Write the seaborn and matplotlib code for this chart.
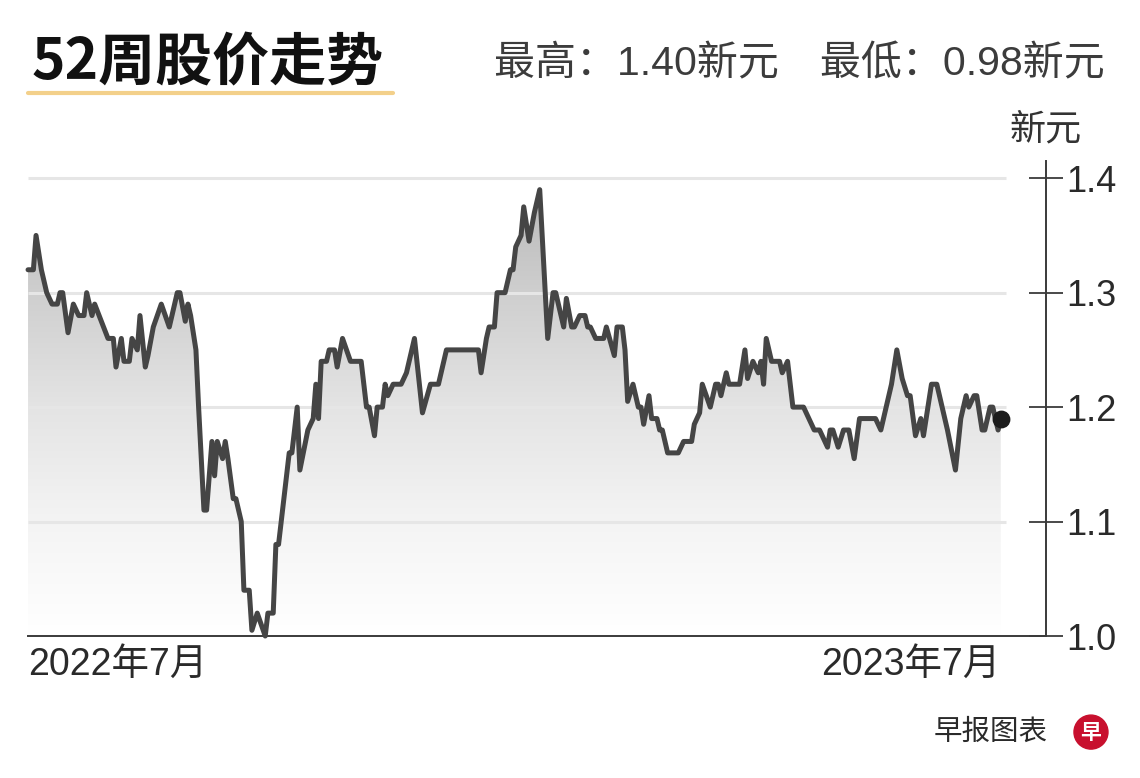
import numpy as np
import pandas as pd
import seaborn as sns
import matplotlib.pyplot as plt
import matplotlib.dates as mdates
from matplotlib.colors import LinearSegmentedColormap
from matplotlib.lines import Line2D
from matplotlib.patches import Ellipse

# days after 1 July 2022 and closing price (S$)
day_offsets = [
    0, 2, 3, 5, 7, 9, 11, 12, 13, 15,
    17, 19, 21, 22, 24, 25, 30, 32, 33, 35,
    36, 38, 39, 41, 42, 44, 45, 47, 50, 53,
    54, 56, 57, 59, 60, 61, 63, 64, 66, 67,
    69, 70, 71, 73, 74, 75, 77, 78, 80, 81,
    83, 84, 86, 89, 90, 92, 93, 94, 98, 99,
    101, 102, 105, 107, 108, 109, 110, 112, 113, 115,
    116, 118, 121, 125, 127, 128, 130, 131, 133, 134,
    135, 137, 140, 142, 145, 148, 151, 154, 157, 169,
    170, 172, 173, 175, 176, 179, 181, 182, 183, 185,
    186, 188, 190, 192, 195, 197, 198, 201, 202, 204,
    205, 207, 209, 210, 211, 213, 216, 217, 220, 221,
    223, 224, 225, 227, 229, 230, 231, 233, 234, 236,
    237, 238, 240, 244, 246, 249, 250, 252, 253, 256,
    258, 259, 260, 262, 263, 267, 269, 270, 272, 274,
    275, 276, 277, 279, 282, 283, 285, 287, 291, 293,
    295, 297, 300, 301, 302, 304, 306, 308, 310, 312,
    318, 320, 323, 324, 326, 328, 330, 331, 333, 335,
    336, 339, 341, 344, 345, 348, 350, 352, 353, 355,
    356, 358, 359, 361, 362, 364, 365,
]
prices = [
    1.32, 1.32, 1.35, 1.32, 1.30, 1.29, 1.29, 1.30, 1.30, 1.265,
    1.29, 1.28, 1.28, 1.30, 1.28, 1.29, 1.26, 1.26, 1.235, 1.26,
    1.24, 1.24, 1.26, 1.25, 1.28, 1.235, 1.245, 1.27, 1.29, 1.27,
    1.28, 1.30, 1.30, 1.275, 1.29, 1.28, 1.25, 1.20, 1.11, 1.11,
    1.17, 1.14, 1.17, 1.155, 1.17, 1.155, 1.12, 1.12, 1.10, 1.04,
    1.04, 1.005, 1.02, 1.00, 1.02, 1.02, 1.08, 1.08, 1.16, 1.16,
    1.20, 1.145, 1.18, 1.19, 1.22, 1.19, 1.24, 1.24, 1.25, 1.25,
    1.235, 1.26, 1.24, 1.24, 1.20, 1.20, 1.175, 1.20, 1.20, 1.22,
    1.21, 1.22, 1.22, 1.23, 1.26, 1.195, 1.22, 1.22, 1.25, 1.25,
    1.23, 1.26, 1.27, 1.27, 1.30, 1.30, 1.32, 1.32, 1.34, 1.35,
    1.375, 1.345, 1.37, 1.39, 1.26, 1.30, 1.30, 1.27, 1.295, 1.27,
    1.27, 1.28, 1.28, 1.27, 1.27, 1.26, 1.26, 1.27, 1.245, 1.27,
    1.27, 1.25, 1.205, 1.22, 1.20, 1.20, 1.185, 1.21, 1.19, 1.19,
    1.18, 1.18, 1.16, 1.16, 1.17, 1.17, 1.185, 1.195, 1.22, 1.20,
    1.22, 1.22, 1.21, 1.23, 1.22, 1.22, 1.25, 1.225, 1.24, 1.23,
    1.24, 1.22, 1.26, 1.24, 1.24, 1.23, 1.24, 1.20, 1.20, 1.19,
    1.18, 1.18, 1.165, 1.18, 1.18, 1.165, 1.18, 1.18, 1.155, 1.19,
    1.19, 1.18, 1.21, 1.22, 1.25, 1.225, 1.21, 1.21, 1.175, 1.19,
    1.175, 1.22, 1.22, 1.19, 1.18, 1.145, 1.19, 1.21, 1.20, 1.21,
    1.21, 1.18, 1.18, 1.20, 1.20, 1.18, 1.19,
]

y_ticks = [1.0, 1.1, 1.2, 1.3, 1.4]
y_labels = ["1.0", "1.1", "1.2", "1.3", "1.4"]
x_ticks = ["2022-07-01", "2023-07-01"]
x_labels = ["2022年7月", "2023年7月"]

title = "52周股价走势"
high_low = "最高：1.40新元　最低：0.98新元"
unit = "新元"
source = "早报图表"

start = pd.Timestamp("2022-07-01")
df = pd.DataFrame({
    "date": start + pd.to_timedelta(day_offsets, unit="D"),
    "price": prices,
})

sns.set_theme(style="white")
plt.rcParams["font.family"] = ["Liberation Sans", "Noto Sans CJK SC"]

fig = plt.figure(figsize=(11.4, 7.78), dpi=100)
ax = fig.add_axes([0.0246, 0.1825, 0.893, 0.6105])

x_end = start + pd.Timedelta(days=382)
y_top = 1.415

# grey gradient under the line, clipped to the area below the price
area = ax.fill_between(df["date"], df["price"], 1.0, facecolor="none", edgecolor="none")
fade = LinearSegmentedColormap.from_list(
    "fade",
    [(0, "#ffffff"), (0.24, "#f4f4f4"), (0.48, "#e4e4e4"), (0.72, "#cfcfcf"), (1.0, "#b3b3b3")],
)
grad = np.linspace(0, 1, 256).reshape(-1, 1)
img = ax.imshow(
    grad, cmap=fade, origin="lower", aspect="auto", zorder=1,
    extent=[mdates.date2num(df["date"].iloc[0]), mdates.date2num(df["date"].iloc[-1]), 1.0, y_top],
)
img.set_clip_path(area.get_paths()[0], transform=ax.transData)

# light grid lines
ax.hlines(y_ticks[1:], start, start + pd.Timedelta(days=367), colors="#e6e6e6", lw=2.2, zorder=2)

sns.lineplot(data=df, x="date", y="price", color="#454545", linewidth=3.6,
             ax=ax, zorder=3, clip_on=False)
ax.scatter(df["date"].iloc[-1], df["price"].iloc[-1], s=140, color="#1c1c1c", zorder=4)

ax.set_xlim(start, x_end)
ax.set_ylim(1.0, y_top)
ax.set_xlabel("")
ax.set_ylabel("")

for side in ["left", "top"]:
    ax.spines[side].set_visible(False)
for side in ["right", "bottom"]:
    ax.spines[side].set_color("#3a3a3a")
    ax.spines[side].set_linewidth(1.4)

ax.yaxis.tick_right()
ax.set_yticks(y_ticks, y_labels)
ax.tick_params(axis="y", direction="inout", length=25, width=1.3, color="#3a3a3a",
               pad=2, labelsize=26, labelcolor="#2a2a2a")

ax.set_xticks(pd.to_datetime(x_ticks), x_labels)
ax.tick_params(axis="x", direction="in", length=9, width=1.3, color="#3a3a3a",
               pad=8, labelsize=27, labelcolor="#2a2a2a")
xl = ax.get_xticklabels()
xl[0].set_ha("left")
xl[-1].set_ha("right")

# header
fig.text(0.028, 0.897, title, fontsize=41, fontweight="heavy", color="#111111",
         family=["Noto Sans CJK SC"], va="baseline", ha="left")
fig.add_artist(Line2D([28 / 1140, 393 / 1140], [0.8805, 0.8805], transform=fig.transFigure,
                      color="#f3d08a", lw=3))
fig.text(0.969, 0.9036, high_low, fontsize=29.5, color="#3c3c3c", va="baseline", ha="right")
fig.text(0.917, 0.833, unit, fontsize=26, color="#333333", va="center", ha="center",
         family=["Noto Sans CJK SC"])

# footer
fig.text(0.919, 0.060, source, fontsize=20.5, color="#2a2a2a", va="center", ha="right",
         family=["Noto Sans CJK SC"])
fig.add_artist(Ellipse((0.957, 0.059), 34 / 1140, 34 / 778, transform=fig.transFigure,
                       color="#c8102e"))
fig.text(0.957, 0.059, "早", fontsize=15, fontweight="bold", color="white",
         ha="center", va="center", family=["Noto Sans CJK SC"])

fig.savefig("out.png", dpi=100)
